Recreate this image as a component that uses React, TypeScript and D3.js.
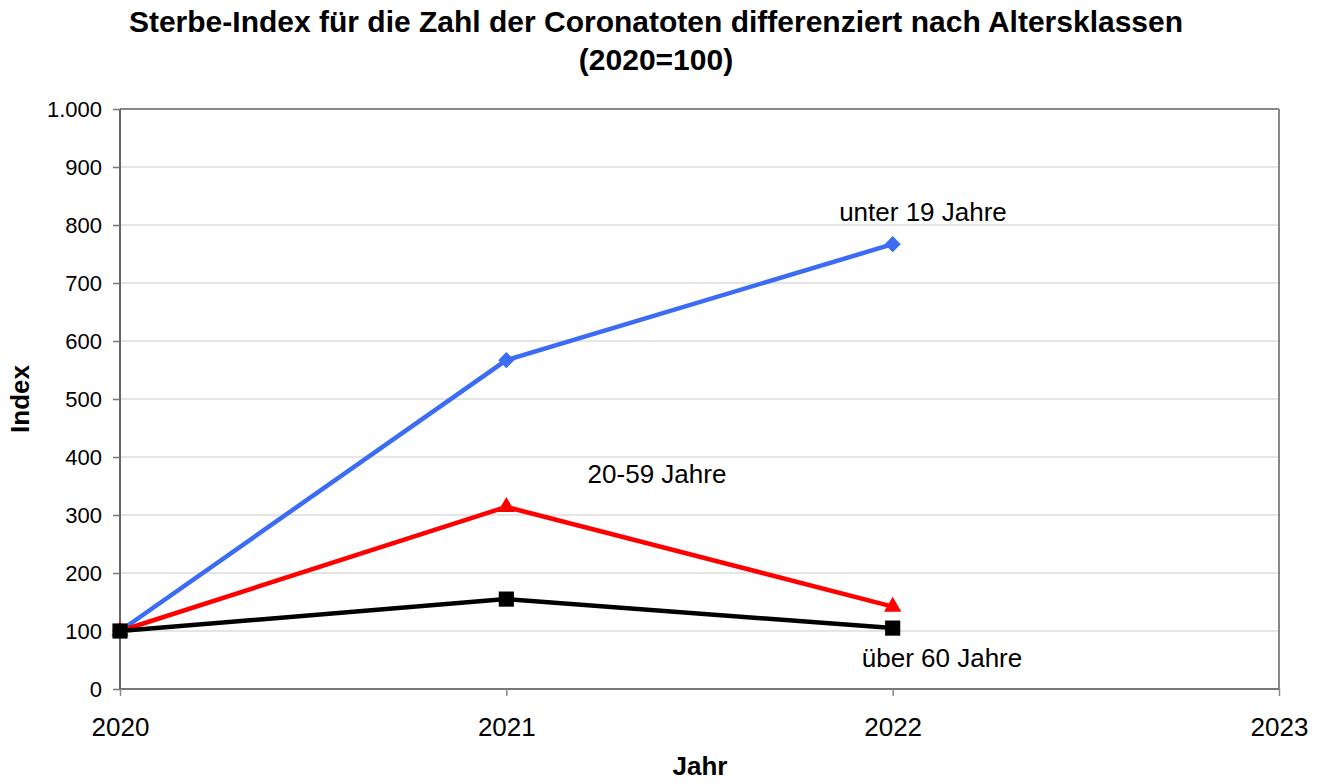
import * as d3 from 'd3'
import { useRef, useEffect } from 'react'

const years = [2020, 2021, 2022, 2023]
const yTicks = [0, 100, 200, 300, 400, 500, 600, 700, 800, 900, 1000]

const seriesYears = [2020, 2021, 2022]
const unter19 = [100, 567, 767]
const mitte2059 = [100, 314, 142]
const ueber60 = [100, 155, 105]

const seriesNames = ['unter 19 Jahre', '20-59 Jahre', 'über 60 Jahre']

const W = 1322
const H = 783
const margin = { top: 109, right: 43, bottom: 94, left: 120 }
const FONT = 'Liberation Sans, Arial, sans-serif'

const App = () => {
  const xAxis = useRef(null)
  const yAxis = useRef(null)

  const xScale = d3.scaleLinear()
    .domain([2020, 2023])
    .range([margin.left, W - margin.right])

  const yScale = d3.scaleLinear()
    .domain([0, 1000])
    .range([H - margin.bottom, margin.top])

  const fmt = d3.formatLocale({ decimal: ',', thousands: '.', grouping: [3], currency: ['', '€'] }).format(',')

  const line = d3.line<number>()
    .x((d, i) => xScale(seriesYears[i]))
    .y(d => yScale(d))

  // diamond = rotated square, like the spreadsheet marker
  const series = [
    { values: unter19, color: '#3a6cf4', symbol: d3.symbolSquare, size: 130, rot: 45 },
    { values: mitte2059, color: '#ff0000', symbol: d3.symbolTriangle, size: 130, rot: 0 },
    { values: ueber60, color: '#000000', symbol: d3.symbolSquare, size: 230, rot: 0 },
  ]

  useEffect(() => {
    const xa = d3.select(xAxis.current)
    xa.call(d3.axisBottom(xScale).tickValues(years).tickFormat(d => String(d)).tickSize(7).tickPadding(22))
    xa.attr('font-size', null).attr('font-family', null)
    xa.select('.domain').remove()
    xa.selectAll('line').attr('stroke', '#888').attr('stroke-width', 1.5)
    xa.selectAll('text').attr('font-size', 26).attr('fill', '#000')

    const ya = d3.select(yAxis.current)
    ya.call(d3.axisLeft(yScale).tickValues(yTicks).tickFormat(d => fmt(d)).tickSize(7).tickPadding(11))
    ya.attr('font-size', null).attr('font-family', null)
    ya.select('.domain').remove()
    ya.selectAll('line').attr('stroke', '#777').attr('stroke-width', 1.5)
    ya.selectAll('text').attr('font-size', 22).attr('fill', '#000')
  })

  const x0 = margin.left
  const x1 = W - margin.right
  const y0 = H - margin.bottom
  const y1 = margin.top

  return (
    <div style={{ position: 'absolute', top: 0, left: 0 }}>
      <svg width={W} height={H} style={{ display: 'block', background: '#fff' }} fontFamily={FONT}>
        <text x={656} y={32} textAnchor="middle" fontSize={30} fontWeight="bold">
          Sterbe-Index für die Zahl der Coronatoten differenziert nach Altersklassen
        </text>
        <text x={656} y={70} textAnchor="middle" fontSize={30} fontWeight="bold">(2020=100)</text>

        {yTicks.filter(t => t > 0 && t < 1000).map(t => (
          <line key={t} x1={x0} x2={x1} y1={yScale(t)} y2={yScale(t)} stroke="#cccccc" strokeWidth={1.2} />
        ))}
        <line x1={x0} x2={x1} y1={y1} y2={y1} stroke="#888" strokeWidth={2} />
        <line x1={x1} x2={x1} y1={y1} y2={y0} stroke="#888" strokeWidth={2} />
        <line x1={x0} x2={x1} y1={y0} y2={y0} stroke="#777" strokeWidth={2} />
        <line x1={x0} x2={x0} y1={y1} y2={y0} stroke="#666" strokeWidth={2} />

        <g ref={xAxis} transform={`translate(0, ${y0})`} />
        <g ref={yAxis} transform={`translate(${x0}, 0)`} />

        {series.map((s, si) => (
          <g key={si}>
            <path d={line(s.values)} fill="none" stroke={s.color} strokeWidth={4.5} />
            {s.values.map((v, i) => (
              <path
                key={i}
                d={d3.symbol().type(s.symbol).size(s.size)()}
                transform={`translate(${xScale(seriesYears[i])}, ${yScale(v)}) rotate(${s.rot})`}
                fill={s.color}
              />
            ))}
          </g>
        ))}

        <text x={923} y={221} textAnchor="middle" fontSize={26}>{seriesNames[0]}</text>
        <text x={657} y={483} textAnchor="middle" fontSize={26}>{seriesNames[1]}</text>
        <text x={942} y={667} textAnchor="middle" fontSize={26}>{seriesNames[2]}</text>

        <text x={700} y={775} textAnchor="middle" fontSize={26} fontWeight="bold">Jahr</text>
        <text transform={`translate(29, 399) rotate(-90)`} textAnchor="middle" fontSize={26} fontWeight="bold">Index</text>
      </svg>
    </div>
  )
}

export default App
